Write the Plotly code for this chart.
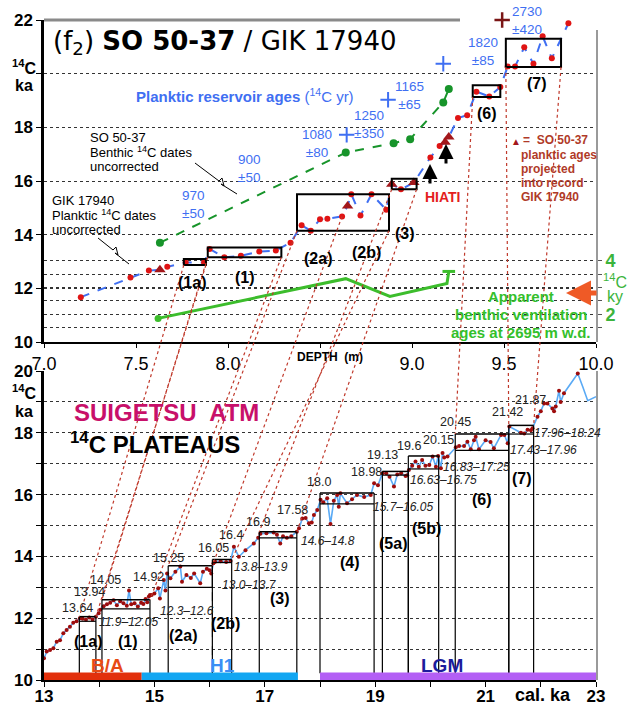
import plotly.graph_objects as go

# ---------------- top panel: SO 50-37 / GIK 17940 versus depth ----------------
# GIK 17940 planktic 14C dates (uncorrected), ka
gik_depth = [7.20, 7.47, 7.57, 7.67, 7.77, 7.87, 7.90, 7.98, 8.07, 8.17, 8.26, 8.34,
             8.40, 8.45, 8.50, 8.54, 8.62, 8.67, 8.72, 8.78, 8.86, 8.94, 9.10, 9.15,
             9.25, 9.30, 9.35, 9.42, 9.48, 9.52, 9.56, 9.61, 9.66, 9.71, 9.76, 9.85]
gik_age = [11.67, 12.40, 12.66, 12.80, 12.96, 12.96, 13.47, 13.16, 13.21, 13.37, 13.41, 13.70,
           14.35, 14.15, 14.57, 14.59, 14.68, 15.51, 14.71, 15.51, 14.93, 15.69, 16.88, 17.30,
           18.35, 18.45, 19.33, 19.15, 19.50, 20.27, 20.27, 20.98, 20.37, 21.39, 20.57, 21.88]

# SO 50-37 planktic ages projected into GIK 17940
so_plk_depth = [7.63, 8.65, 8.89, 9.01, 9.18, 9.20]
so_plk_age = [12.69, 15.07, 15.88, 15.94, 17.44, 17.64]

# SO 50-37 benthic 14C dates (uncorrected)
so_ben_depth = [7.63, 8.64, 8.90, 8.99, 9.17, 9.20]
so_ben_age = [13.70, 17.06, 17.41, 17.56, 18.93, 19.43]

# apparent benthic ventilation ages at 2695 m w.d. (14C ky, right axis)
vent_depth = [7.62, 8.64, 8.88, 9.19, 9.20]
vent_age = [1.85, 3.33, 2.67, 3.15, 3.60]

# planktic reservoir-age markers
res_depth = [8.645, 8.87, 9.17]
res_age = [17.72, 19.03, 20.37]
res_top_depth = [9.49]
res_top_age = [22.0]
res_labels = ["970<br>±50", "900<br>±50", "1080<br>±80", "1250<br>±350",
              "1165<br>±65", "1820<br>±85", "2730<br>±420"]

# 14C plateau boxes in depth domain
tbox_d0 = [7.76, 7.89, 8.375, 8.89, 9.33, 9.51]
tbox_d1 = [7.88, 8.29, 8.875, 9.025, 9.48, 9.81]
tbox_a0 = [12.87, 13.16, 14.15, 15.69, 19.13, 20.25]
tbox_a1 = [13.09, 13.52, 15.51, 16.08, 19.57, 21.30]

# ---------------- bottom panel: Suigetsu atmospheric 14C ----------------
sg_cal = [13.00, 13.05, 13.11, 13.17, 13.23, 13.29, 13.35, 13.41, 13.47, 13.53, 13.59, 13.65,
          13.70, 13.76, 13.82, 13.88, 13.94, 13.99, 14.02, 14.08, 14.14, 14.20, 14.26, 14.32,
          14.38, 14.44, 14.50, 14.54, 14.58, 14.64, 14.70, 14.76, 14.80, 14.84, 14.87, 14.90,
          14.92, 14.95, 15.00, 15.07, 15.10, 15.17, 15.20, 15.23, 15.29, 15.38, 15.47, 15.50,
          15.58, 15.66, 15.72, 15.83, 15.88, 15.95, 16.00, 16.03, 16.07, 16.10, 16.20, 16.30,
          16.38, 16.44, 16.53, 16.65, 16.80, 16.88, 16.92, 17.03, 17.16, 17.22, 17.28, 17.33,
          17.40, 17.48, 17.58, 17.62, 17.68, 17.74, 17.80, 17.85, 17.89, 17.95, 18.01, 18.06,
          18.13, 18.19, 18.25, 18.31, 18.34, 18.37, 18.49, 18.58, 18.67, 18.80, 18.92, 18.98,
          19.05, 19.13, 19.20, 19.26, 19.34, 19.40, 19.47, 19.55, 19.58, 19.61, 19.67, 19.73,
          19.79, 19.85, 19.91, 19.98, 20.04, 20.10, 20.14, 20.19, 20.22, 20.25, 20.31, 20.46,
          20.52, 20.61, 20.67, 20.73, 20.79, 20.82, 20.88, 21.00, 21.09, 21.15, 21.28, 21.34,
          21.40, 21.43, 21.64, 21.70, 21.76, 21.82, 21.85, 21.94, 22.00, 22.06, 22.12, 22.21,
          22.24, 22.27, 22.33, 22.36, 22.42, 22.67, 22.76, 22.85, 23.00]
sg_c14 = [10.70, 10.92, 10.97, 11.03, 11.24, 11.29, 11.51, 11.62, 11.72, 11.85, 11.90, 12.00,
          11.98, 11.95, 12.02, 11.96, 12.05, 12.16, 12.27, 12.39, 12.45, 12.50, 12.58, 12.42,
          12.55, 12.48, 12.40, 12.90, 12.45, 12.48, 12.38, 12.50, 12.46, 12.62, 12.52, 12.70,
          12.75, 12.75, 12.80, 12.97, 12.64, 13.24, 12.90, 13.45, 13.29, 13.50, 13.67, 13.18,
          13.40, 13.30, 13.45, 13.13, 13.50, 13.60, 13.55, 13.45, 13.78, 13.83, 13.84, 13.82,
          13.85, 14.31, 13.99, 14.20, 14.42, 14.60, 14.73, 14.75, 14.77, 14.70, 14.42, 14.65,
          14.60, 14.65, 14.80, 14.91, 15.23, 15.24, 15.07, 15.10, 15.34, 15.50, 15.83, 15.75,
          15.88, 15.05, 15.80, 15.99, 15.61, 16.04, 15.72, 15.85, 15.99, 15.92, 15.99, 16.37,
          16.30, 16.69, 16.69, 16.58, 16.26, 16.65, 16.69, 16.60, 16.63, 16.80, 16.93, 17.07,
          16.90, 17.12, 16.93, 16.96, 17.23, 16.90, 17.25, 16.85, 17.35, 17.20, 17.23, 17.53,
          17.57, 17.57, 17.71, 17.47, 17.76, 17.87, 17.47, 17.76, 17.70, 17.50, 17.93, 17.93,
          17.66, 18.20, 18.00, 17.98, 18.10, 18.08, 18.15, 18.52, 18.70, 18.95, 18.95, 18.79,
          18.70, 18.85, 19.36, 19.00, 19.28, 19.92, 19.49, 19.04, 19.17]
sg_dotted = 150  # dated points drawn with markers

# Suigetsu 14C plateaus: cal ka limits and 14C ka range
plat_name = ["(1a)", "(1)", "(2a)", "(2b)", "(3)", "(4)", "(5a)", "(5b)", "(6)", "(7)"]
plat_cal0 = [13.64, 14.05, 15.25, 16.05, 16.90, 18.00, 19.13, 19.60, 20.45, 21.42]
plat_cal1 = [13.94, 14.92, 16.05, 16.40, 17.58, 18.98, 19.60, 20.15, 21.42, 21.87]
plat_lo = [11.90, 12.30, 13.00, 13.80, 14.60, 15.70, 16.63, 16.83, 17.43, 17.96]
plat_hi = [12.05, 12.60, 13.70, 13.90, 14.80, 16.05, 16.75, 17.25, 17.96, 18.24]
plat_range_text = ["11.9–12.05", "12.3–12.6", "13.0–13.7", "13.8–13.9", "14.6–14.8",
                   "15.7–16.05", "16.63–16.75", "16.83–17.25", "17.43–17.96", "17.96–18.24"]
edge_labels = ["13.64", "13.94", "14.05", "14.92", "15.25", "16.05", "16.4", "16.9", "17.58",
               "18.0", "18.98", "19.13", "19.6", "20.15", "20.45", "21.42", "21.87"]

# climate periods along the cal-age axis
period_name = ["B/A", "H1", "LGM"]
period_start = [13.0, 14.77, 18.0]
period_end = [14.77, 17.6, 23.0]

# tie lines: depth-domain plateau edge -> cal-age plateau edge
link_depth = [7.76, 7.88, 7.89, 8.29, 8.375, 8.62, 8.875, 8.89, 9.025, 9.33, 9.51, 9.81]
link_age = [12.87, 12.87, 13.16, 13.16, 14.15, 14.68, 14.15, 15.69, 15.69, 19.13, 20.25, 20.25]
link_cal = [13.64, 13.94, 14.05, 14.92, 15.25, 16.05, 16.40, 16.90, 17.58, 20.45, 21.42, 21.87]
link_c14 = [12.05, 12.05, 12.60, 12.60, 13.70, 13.70, 13.90, 14.80, 14.80, 17.96, 18.24, 18.24]

# ---------------- geometry and styles ----------------
FONT = "Liberation Sans, Arial, Helvetica, sans-serif"
W, H = 630, 708
L, R, T, B = 44, 596, 20, 680
TOP_DOM = [(B - 342) / (B - T), 1.0]
BOT_DOM = [0.0, (B - 371) / (B - T)]
VENT_OFFSET = 9.03

BLUE = "#3f6ff2"
RED_DOT = "#e01414"
TRI = "#a3171b"
GREEN_D = "#17942a"
GREEN_V = "#3cbd2c"
SKY = "#5aaaf5"
DARK_DOT = "#9e0c0c"
TIE = "#c0392b"
GRID = "#333333"


def pp(xpix, ypix):
    return (xpix - L) / (R - L), (B - ypix) / (B - T)


def top_paper(d, a):
    return (d - 7.0) / 3.0, TOP_DOM[0] + (a - 10.0) / 12.0 * (TOP_DOM[1] - TOP_DOM[0])


def bot_paper(c, v):
    return (c - 13.0) / 10.0, BOT_DOM[0] + (v - 10.0) / 10.0 * (BOT_DOM[1] - BOT_DOM[0])


fig = go.Figure()

# planktic path (GIK dots and SO projected triangles in depth order)
path = sorted(zip(gik_depth + so_plk_depth, gik_age + so_plk_age))
fig.add_trace(go.Scatter(x=[p[0] for p in path], y=[p[1] for p in path], mode="lines",
                         line=dict(color=BLUE, width=2, dash="dash"), xaxis="x", yaxis="y"))
fig.add_trace(go.Scatter(x=gik_depth, y=gik_age, mode="markers",
                         marker=dict(color=RED_DOT, size=6), xaxis="x", yaxis="y"))
fig.add_trace(go.Scatter(x=so_plk_depth, y=so_plk_age, mode="markers",
                         marker=dict(color=TRI, size=10, symbol="triangle-up"), xaxis="x", yaxis="y"))
# benthic dates
fig.add_trace(go.Scatter(x=so_ben_depth, y=so_ben_age, mode="lines+markers",
                         line=dict(color=GREEN_D, width=2, dash="dash"),
                         marker=dict(color=GREEN_D, size=8), xaxis="x", yaxis="y"))
# reservoir-age markers
fig.add_trace(go.Scatter(x=res_depth, y=res_age, mode="markers",
                         marker=dict(symbol="cross-thin", size=11, line=dict(color=BLUE, width=2)),
                         xaxis="x", yaxis="y"))
fig.add_trace(go.Scatter(x=res_top_depth, y=res_top_age, mode="markers",
                         marker=dict(symbol="cross-thin", size=11, line=dict(color="#7a1515", width=2.5)),
                         xaxis="x", yaxis="y", cliponaxis=False))
# ventilation ages on the right-hand axis
fig.add_trace(go.Scatter(x=vent_depth, y=vent_age, mode="lines",
                         line=dict(color=GREEN_V, width=3), xaxis="x", yaxis="y3"))
fig.add_trace(go.Scatter(x=[vent_depth[0]], y=[vent_age[0]], mode="markers",
                         marker=dict(color=GREEN_V, size=7), xaxis="x", yaxis="y3"))
fig.add_trace(go.Scatter(x=[vent_depth[-1]], y=[vent_age[-1]], mode="markers",
                         marker=dict(symbol="line-ew", size=9, line=dict(color=GREEN_V, width=3)),
                         xaxis="x", yaxis="y3"))

# Suigetsu record
fig.add_trace(go.Scatter(x=sg_cal, y=sg_c14, mode="lines",
                         line=dict(color=SKY, width=1.6), xaxis="x2", yaxis="y2"))
fig.add_trace(go.Scatter(x=sg_cal[:sg_dotted], y=sg_c14[:sg_dotted], mode="markers",
                         marker=dict(color=DARK_DOT, size=4), xaxis="x2", yaxis="y2"))

shapes = []
ann = []


def line_paper(x0, y0, x1, y1, color, width, dash="solid"):
    shapes.append(dict(type="line", xref="paper", yref="paper", x0=x0, y0=y0, x1=x1, y1=y1,
                       line=dict(color=color, width=width, dash=dash)))


# plateau boxes in the depth domain
for d0, d1, a0, a1 in zip(tbox_d0, tbox_d1, tbox_a0, tbox_a1):
    shapes.append(dict(type="rect", xref="x", yref="y", x0=d0, x1=d1, y0=a0, y1=a1,
                       line=dict(color="black", width=2)))

# plateau frames on the cal-age axis
for i, (c0, c1, lo, hi) in enumerate(zip(plat_cal0, plat_cal1, plat_lo, plat_hi)):
    k = dict(type="line", xref="x2", yref="y2")
    shapes.append(dict(k, x0=c0, x1=c1, y0=hi, y1=hi, line=dict(color="black", width=1.5)))
    shapes.append(dict(k, x0=c0, x1=c1, y0=lo, y1=lo, line=dict(color="black", width=1.2)))
    shapes.append(dict(k, x0=c0, x1=c0, y0=10.22, y1=hi, line=dict(color="black", width=1.2)))
    if plat_name[i] == "(2a)":
        shapes.append(dict(k, x0=c1, x1=c1, y0=lo, y1=hi, line=dict(color="black", width=1.2)))
        shapes.append(dict(k, x0=c1, x1=c1, y0=10.22, y1=lo,
                           line=dict(color="black", width=1, dash="dash")))
    else:
        shapes.append(dict(k, x0=c1, x1=c1, y0=10.22, y1=hi, line=dict(color="black", width=1.2)))

# period bars
period_color = ["#e2300c", "#12a6f2", "#b35ff5"]
for s, e, col in zip(period_start, period_end, period_color):
    shapes.append(dict(type="rect", xref="x2", yref="y2", x0=s, x1=e, y0=10.0, y1=10.24,
                       line=dict(width=0), fillcolor=col))

# tie lines between the two panels
for d, a, c, v in zip(link_depth, link_age, link_cal, link_c14):
    x0, y0 = top_paper(d, a)
    x1, y1 = bot_paper(c, v)
    line_paper(x0, y0, x1, y1, TIE, 1.2, "dot")

# frame pieces
x0, y0 = pp(44, 20)
x1, _ = pp(460, 20)
line_paper(x0, y0, x1, y0, "#8a8a8a", 3)
xr, yt = pp(597, 30)
_, yb = pp(597, 342)
line_paper(xr, yt, xr, yb, "#9a9a9a", 2)
_, yt2 = pp(597, 371)
_, yb2 = pp(597, 680)
line_paper(xr, yt2, xr, yb2, "#9a9a9a", 2)

# leader lines with break marks
for pts in ([(195, 163), (219, 181), (222, 178), (224, 186), (221, 184), (237, 194)],
            [(98, 238), (113, 250), (116, 247), (118, 255), (115, 253), (129, 264)]):
    path_s = ""
    for j, (px_, py_) in enumerate(pts):
        xx, yy = pp(px_, py_)
        path_s += ("M" if j == 0 else " L") + f" {xx:.5f} {yy:.5f}"
    shapes.append(dict(type="path", xref="paper", yref="paper", path=path_s,
                       line=dict(color="black", width=1)))


def note(xpix, ypix, text, size=13, color="black", xanchor="center", family=FONT, **kw):
    x, y = pp(xpix, ypix)
    ann.append(dict(x=x, y=y, xref="paper", yref="paper", text=text, showarrow=False,
                    xanchor=xanchor, yanchor="middle",
                    font=dict(family=family, size=size, color=color), **kw))


# titles and axis captions
note(51, 43, "(f<sub>2</sub>) <b>SO 50-37</b> / GIK 17940", size=26, xanchor="left",
     family="DejaVu Sans, Liberation Sans, sans-serif")
note(24, 67, "<b><sup>14</sup>C</b>", size=16)
note(24, 85, "<b>ka</b>", size=16)
note(24, 392, "<b><sup>14</sup>C</b>", size=16)
note(24, 411, "<b>ka</b>", size=16)
note(330, 357, "<b>DEPTH  (m)</b>", size=12)
note(543, 695, "<b>cal. ka</b>", size=18)

note(134, 95, "<b>Planktic reservoir ages</b> (<sup>14</sup>C yr)", size=15, color=BLUE, xanchor="left")
res_pos = [(193, 205), (249, 169), (317, 143), (369, 124), (410, 95), (483, 52), (527, 21)]
for (xp, yp), t in zip(res_pos, res_labels):
    note(xp, yp, t, size=13.5, color=BLUE)

for yp, t in zip([137, 152, 166], ["SO 50-37", "Benthic <sup>14</sup>C dates", "uncorrected"]):
    note(88, yp, t, size=13, xanchor="left")
for yp, t in zip([200, 215, 229], ["GIK 17940", "Planktic <sup>14</sup>C dates", "uncorrected"]):
    note(50, yp, t, size=13, xanchor="left")

note(443, 197, "<b>HIATI</b>", size=14, color="#e41e1e")
for xp, ytip in [(430, 164), (446, 144)]:
    x, y = pp(xp, ytip)
    ann.append(dict(x=x, y=y, xref="paper", yref="paper", text="", showarrow=True,
                    ax=0, ay=21, arrowhead=2, arrowsize=1, arrowwidth=3, arrowcolor="black"))

note(509, 141, "▲", size=10, color=TRI, xanchor="left")
note(521, 140, "<b>=  SO 50-37</b>", size=12, color="#b03a28", xanchor="left")
for yp, t in zip([155, 169, 183, 197], ["planktic ages", "projected", "into record", "GIK 17940"]):
    note(519, yp, f"<b>{t}</b>", size=12, color="#b03a28", xanchor="left")

for yp, t in zip([296, 314, 332], ["Apparent", "benthic ventilation", "ages at 2695 m w.d."]):
    note(521, yp, f"<b>{t}</b>", size=15, color="#34c02c")
note(615, 281, "<sup>14</sup>C", size=16, color="#3cb43c")
note(615, 296, "ky", size=16, color="#3cb43c")
x, y = pp(566, 293)
ann.append(dict(x=x, y=y, xref="paper", yref="paper", text="", showarrow=True, ax=32, ay=0,
                arrowhead=2, arrowsize=1, arrowwidth=5, arrowcolor="#ef5a26"))

# plateau labels in the depth domain
tlab = [(7.805, 12.2, "(1a)"), (8.09, 12.42, "(1)"), (8.49, 13.13, "(2a)"), (8.75, 13.32, "(2b)"),
        (8.96, 14.03, "(3)"), (9.41, 18.5, "(6)"), (9.68, 19.62, "(7)")]
for d, a, t in tlab:
    ann.append(dict(x=d, y=a, xref="x", yref="y", text=f"<b>{t}</b>", showarrow=False,
                    font=dict(family=FONT, size=16, color="black")))

# bottom panel texts
note(166, 412, "<b>SUIGETSU  ATM</b>", size=24, color="#c8106a")
note(155, 443, "<b><sup>14</sup>C PLATEAUS</b>", size=24)

edge_pos = [(77, 608), (89, 592), (105, 580), (148, 577), (168, 558), (213, 548), (231, 535),
            (258, 522), (292, 510), (319, 482), (366, 472), (382, 455), (409, 446), (438, 440),
            (455, 422), (507, 412), (530, 400)]
for (xp, yp), t in zip(edge_pos, edge_labels):
    note(xp, yp, t, size=12.5, color="#222222")

range_pos = [(128, 622), (187, 611), (249, 585), (261, 567), (328, 541), (403, 507),
             (443, 480), (476, 467), (543, 450), (567, 433)]
for (xp, yp), t in zip(range_pos, plat_range_text):
    note(xp, yp, f"<i>{t}</i>", size=12, color="#222222")

plat_lab_pos = [(88, 641), (128, 641), (183, 635), (225, 623), (280, 598), (350, 562),
                (393, 543), (426, 528), (482, 499), (522, 478)]
for (xp, yp), t in zip(plat_lab_pos, plat_name):
    note(xp, yp, f"<b>{t}</b>", size=16)

period_lab = [(107, 665, "#e84a14"), (222, 665, "#3a8ef5"), (442, 665, "#1c1c9c")]
for (xp, yp, col), t in zip(period_lab, period_name):
    note(xp, yp, f"<b>{t}</b>", size=19, color=col)

axis_common = dict(showline=True, linecolor="black", ticks="outside", tickcolor="black",
                   zeroline=False, automargin=False, tickfont=dict(family=FONT, color="black"))
grid_minor = dict(ticks="outside", tickcolor="black", showgrid=True, gridcolor=GRID,
                  griddash="dot", gridwidth=1)

fig.update_layout(
    template="none",
    width=W, height=H, margin=dict(l=L, r=W - R, t=T, b=H - B, pad=0, autoexpand=False),
    paper_bgcolor="white", plot_bgcolor="white", showlegend=False,
    font=dict(family=FONT, color="black"),
    xaxis=dict(axis_common, domain=[0, 1], anchor="y", range=[7, 10],
               tickvals=[7, 7.5, 8, 9, 9.5, 10],
               ticktext=["7.0", "7.5", "8.0", "9.0", "9.5", "10.0"],
               minor=dict(tickvals=[8.5], ticks="outside", ticklen=4, tickcolor="black", showgrid=False),
               ticklen=4, linewidth=2, showgrid=False, tickfont=dict(size=18)),
    yaxis=dict(axis_common, domain=TOP_DOM, anchor="x", range=[10, 22],
               tickvals=[10, 12, 14, 16, 18, 22],
               ticktext=["<b>10</b>", "<b>12</b>", "<b>14</b>", "<b>16</b>", "<b>18</b>", "<b>22</b>"],
               minor=dict(grid_minor, tickvals=[20], ticklen=5),
               ticklen=5, linewidth=2.5, showgrid=True, gridcolor=GRID, griddash="dot",
               gridwidth=1, tickfont=dict(size=17)),
    yaxis3=dict(overlaying="y", side="right", anchor="x", range=[10 - VENT_OFFSET, 22 - VENT_OFFSET],
                tickvals=[2, 4], ticktext=["<b>2</b>", "<b>4</b>"],
                minor=dict(grid_minor, tickvals=[1.5, 2.5, 3, 3.5], ticklen=5, tickcolor="#555555"),
                ticks="outside", ticklen=5, tickcolor="#555555", showline=False, zeroline=False,
                automargin=False, showgrid=True, gridcolor=GRID, griddash="dot", gridwidth=1,
                tickfont=dict(family=FONT, size=18, color="#3cb43c")),
    xaxis2=dict(axis_common, domain=[0, 1], anchor="y2", range=[13, 23],
                tickvals=[13, 15, 17, 19, 21, 23],
                ticktext=["<b>13</b>", "<b>15</b>", "<b>17</b>", "<b>19</b>", "<b>21</b>", "<b>23</b>"],
                minor=dict(tickvals=[14, 16, 18, 20, 22], ticks="outside", ticklen=5,
                           tickcolor="black", showgrid=False),
                ticklen=5, ticklabelstandoff=-5, linewidth=2, showgrid=False, tickfont=dict(size=17)),
    yaxis2=dict(axis_common, domain=BOT_DOM, anchor="x2", range=[10, 20],
                tickvals=[10, 12, 14, 16, 18, 20],
                ticktext=["<b>10</b>", "<b>12</b>", "<b>14</b>", "<b>16</b>", "<b>18</b>", "<b>20</b>"],
                minor=dict(grid_minor, tickvals=[11, 13, 15, 17, 19], ticklen=5),
                ticklen=5, linewidth=2.5, showgrid=True, gridcolor=GRID, griddash="dot",
                gridwidth=1, tickfont=dict(size=17)),
    shapes=shapes, annotations=ann,
)

fig.write_html("out.html")
